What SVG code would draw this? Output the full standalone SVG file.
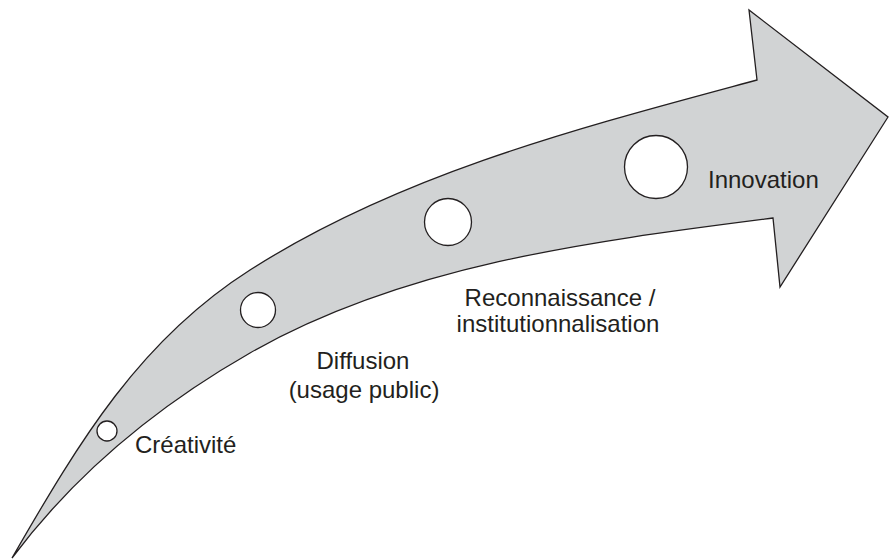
<svg xmlns="http://www.w3.org/2000/svg" width="889" height="560" viewBox="0 0 889 560">
<style>
.arrow{fill:#d1d3d4;stroke:#231f20;stroke-width:1.3;stroke-linejoin:miter}
.dot{fill:#ffffff;stroke:#231f20;stroke-width:1.3}
.lbl{font-family:"Liberation Sans",Arial,sans-serif;font-size:24px;fill:#231f20}
</style>
<rect width="889" height="560" fill="#ffffff"/>
<g id="arrow">
<path class="arrow" d="M12,558 C80,440 140,340 250,270 C402,173 583,127 757,80 L749,10 L888,117 L780,287 L773,218 C594,241 406,264 250,353 C159,405 75,474 12,558 Z"/>
</g>
<g id="node-creativite">
<circle class="dot" cx="107" cy="431" r="10"/>
<text class="lbl" x="135" y="453">Créativité</text>
</g>
<g id="node-diffusion">
<circle class="dot" cx="258" cy="310" r="17.5"/>
<text class="lbl" x="363" y="369" text-anchor="middle">Diffusion</text>
<text class="lbl" x="364" y="398" text-anchor="middle">(usage public)</text>
</g>
<g id="node-reconnaissance">
<circle class="dot" cx="448" cy="222" r="23.5"/>
<text class="lbl" x="560" y="306" text-anchor="middle">Reconnaissance /</text>
<text class="lbl" x="558" y="332" text-anchor="middle">institutionnalisation</text>
</g>
<g id="node-innovation">
<circle class="dot" cx="656" cy="167" r="31.5"/>
<text class="lbl" x="708" y="188">Innovation</text>
</g>
<g id="connectors"></g>
</svg>
